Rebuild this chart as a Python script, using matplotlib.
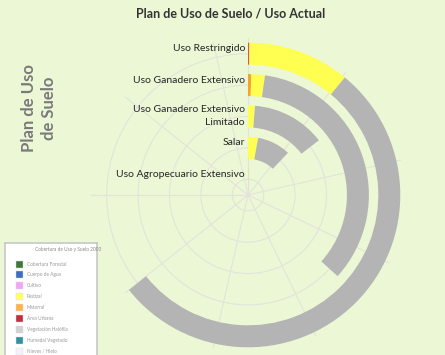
import numpy as np
import matplotlib
matplotlib.use("Agg")
import matplotlib.pyplot as plt
from matplotlib.patches import Rectangle

plt.rcParams['font.family'] = ['Lato', 'DejaVu Sans']

# ---------------- data ----------------
categories = ["Uso Agropecuario Extensivo", "Salar", "Uso Ganadero Extensivo\nLimitado",
              "Uso Ganadero Extensivo", "Uso Restringido"]
# stacked segments per category (angle-axis units, full circle = AXIS_MAX)
rojo     = [0.0, 0.0, 0.0, 0.0, 0.4]
naranja  = [0.0, 0.0, 0.0, 1.2, 0.0]
amarillo = [0.6, 7.8, 3.5, 5.1, 30.3]
gris     = [0.3, 26.0, 37.2, 96.5, 149.3]
AXIS_MAX = 280.0
AXIS_STEP = 30.0

legend_title = "Cobertura de Uso y Suelo 2003"
legend_names = ["Cobertura Forestal", "Cuerpo de Agua", "Cultivo", "Pastizal", "Matorral",
                "Área Urbana", "Vegetación Halófila", "Humedal Vegetado", "Nieves / Hielo"]
legend_colors = ["#3d7a3a", "#3b6fbf", "#f2a6f2", "#ffff66", "#ffb24d",
                 "#c2303f", "#d2d2d2", "#2f93a3", "#f2f2fb"]

BG = "#ecf7d5"
W, H = 445, 355
fig = plt.figure(figsize=(W / 100, H / 100), dpi=100, facecolor=BG)

# ---------------- polar bar chart ----------------
cx, cy, R = 248, 195, 157
ax = fig.add_axes([(cx - R) / W, (H - cy - R) / H, 2 * R / W, 2 * R / H], projection="polar")
ax.set_facecolor(BG)
ax.set_theta_zero_location("N")
ax.set_theta_direction(-1)
n = len(categories)
ax.set_ylim(0, n)
ax.set_xlim(0, 2 * np.pi)

to_rad = lambda v: np.asarray(v) / AXIS_MAX * 2 * np.pi
rpos = np.arange(n) + 0.5
ax.set_yticks(rpos)
ax.set_yticklabels([])
ax.set_xticks(to_rad(np.arange(0, AXIS_MAX, AXIS_STEP)))
ax.set_xticklabels([])
ax.grid(True, color="#e2e4dc", lw=0.8)
ax.spines["polar"].set_visible(False)
ax.tick_params(length=0)

left = np.zeros(n)
for seg, col in [(rojo, "#e8504a"), (naranja, "#f5a42a"), (amarillo, "#ffff52"), (gris, "#b4b4b4")]:
    seg = np.asarray(seg)
    ax.bar(to_rad(left), np.ones(n) * 0.7, width=to_rad(seg), bottom=rpos - 0.35,
           align="edge", color=col, edgecolor="none", zorder=3)
    left = left + seg

for r, lab in zip(rpos, categories):
    two = "\n" in lab
    ax.annotate(lab, xy=(0, r), xytext=(-3, 11 if two else 5), textcoords="offset pixels",
                ha="right", va="top" if two else "center", fontsize=7.5, color="#262626",
                linespacing=1.55, annotation_clip=False, zorder=5)

# ---------------- titles ----------------
fig.text(231 / W, 1 - 13 / H, "Plan de Uso de Suelo / Uso Actual", ha="center", va="center",
         fontsize=9, fontweight="bold", color="#333333")
fig.text(39 / W, 1 - 108 / H, "Plan de Uso\nde Suelo", ha="center", va="center", rotation=90,
         fontsize=12, fontweight="bold", color="#7a7a7a", linespacing=1.3)

# ---------------- legend image ----------------
lx0, ly0, lw, lh = 5, 243, 92, 112
lax = fig.add_axes([lx0 / W, (H - ly0 - lh) / H, lw / W, lh / H])
lax.set_xlim(0, lw)
lax.set_ylim(lh, 0)
lax.set_facecolor("white")
lax.set_xticks([]); lax.set_yticks([])
for s in ["top", "left", "right"]:
    lax.spines[s].set_color("#c8c8c8")
    lax.spines[s].set_linewidth(1.2)
lax.spines["bottom"].set_visible(False)
lax.text(30, 7, legend_title, fontsize=3.4, color="#8a8a8a", va="center", ha="left")
for i, (nm, c) in enumerate(zip(legend_names, legend_colors)):
    y = 21 + i * 10.9
    lax.add_patch(Rectangle((11, y - 3.5), 7, 7, facecolor=c, edgecolor="#dddddd", lw=0.3))
    lax.text(22, y, nm, fontsize=3.4, color="#9a9a9a", va="center", ha="left")

fig.savefig("out.png", dpi=100, facecolor=BG)
